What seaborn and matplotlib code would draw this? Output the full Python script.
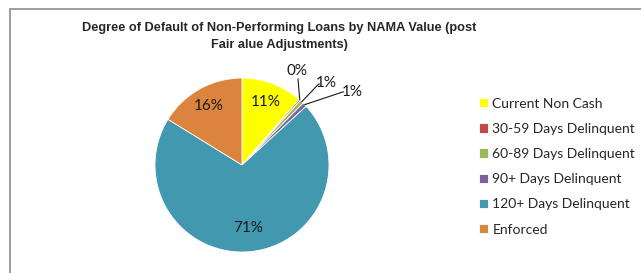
import matplotlib.pyplot as plt
import numpy as np
import seaborn as sns
from matplotlib.patches import Rectangle

categories = ["Current Non Cash", "30-59 Days Delinquent", "60-89 Days Delinquent",
              "90+ Days Delinquent", "120+ Days Delinquent", "Enforced"]
shares = [11.4, 0.3, 0.7, 0.8, 70.6, 16.2]
pct_labels = ["11%", "0%", "1%", "1%", "71%", "16%"]
colors = ["#FFFF00", "#BE4B48", "#98B954", "#7D60A0", "#4198AF", "#DB843D"]

sns.set_theme(style="white")
plt.rcParams['font.family'] = ['Lato', 'DejaVu Sans']

fig = plt.figure(figsize=(6.41, 2.73), dpi=100)
W, H = 641, 273

# chart frame (runs off right and bottom edges)
fig.patches.append(Rectangle((9.5 / W, -0.1), 1.2, 1.1 - 9 / H, transform=fig.transFigure,
                             fill=False, edgecolor="#8c8c8c", linewidth=1.2))

fig.text(279 / W, 1 - 28 / H, "Degree of Default of Non-Performing Loans by NAMA Value (post",
         ha="center", va="center", fontsize=9.2, fontweight="bold", family="Liberation Sans")
fig.text(279 / W, 1 - 45 / H, "Fair alue Adjustments)",
         ha="center", va="center", fontsize=9.2, fontweight="bold", family="Liberation Sans")

cx, cy, r = 242, 165, 87
ax = fig.add_axes([(cx - r) / W, (H - cy - r) / H, 2 * r / W, 2 * r / H])
wedges, _ = ax.pie(shares, colors=colors, startangle=90, counterclock=False,
                   wedgeprops=dict(linewidth=0.6, edgecolor="white"))
ax.set_xlim(-1, 1)
ax.set_ylim(-1, 1)
ax.set_aspect("equal")
ax.axis("off")

inner_r = {0: 0.77, 4: 0.73, 5: 0.78}
outer_pos = {1: (0.63, 1.08), 2: (0.97, 0.94), 3: (1.27, 0.84)}
elbow = {1: None, 2: (0.88, 0.93), 3: (1.16, 0.84)}
for i, w in enumerate(wedges):
    ang = np.deg2rad((w.theta1 + w.theta2) / 2)
    if i in inner_r:
        rr = inner_r[i]
        ax.text(rr * np.cos(ang), rr * np.sin(ang), pct_labels[i], ha="center", va="center",
                fontsize=11, color="#1a1a1a")
    else:
        tx, ty = outer_pos[i]
        ex, ey = np.cos(ang), np.sin(ang)
        if elbow[i] is None:
            pts = [(ex, ey), (ex - 0.02, ty - 0.09)]
        else:
            pts = [(ex, ey), elbow[i], (elbow[i][0] + 0.01, elbow[i][1])]
        xs, ys = zip(*pts)
        ax.plot(xs, ys, color="#1a1a1a", linewidth=0.8, clip_on=False)
        ax.text(tx, ty, pct_labels[i], ha="center", va="center", fontsize=11,
                color="#1a1a1a", clip_on=False)

fig.legend(wedges, categories, loc="upper left", bbox_to_anchor=(473 / W, 1 - 92 / H),
           frameon=False, fontsize=10, handlelength=0.65, handleheight=0.65,
           handletextpad=0.35, labelspacing=0.95, borderaxespad=0)

fig.savefig("out.png", dpi=100)
